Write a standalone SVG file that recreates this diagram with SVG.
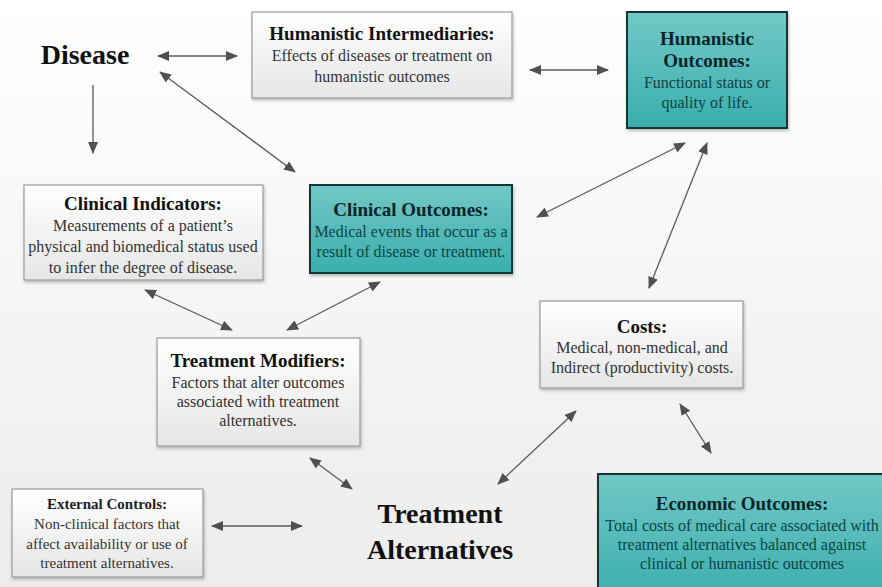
<svg xmlns="http://www.w3.org/2000/svg" width="882" height="587" viewBox="0 0 882 587">
  <defs>
    <linearGradient id="bg" x1="0" y1="0" x2="0" y2="1">
      <stop offset="0" stop-color="#ffffff"/>
      <stop offset="1" stop-color="#ececec"/>
    </linearGradient>
    <linearGradient id="plain" x1="0" y1="0" x2="0" y2="1">
      <stop offset="0" stop-color="#ffffff"/>
      <stop offset="1" stop-color="#e6e6e6"/>
    </linearGradient>
    <linearGradient id="teal" x1="0" y1="0" x2="0" y2="1">
      <stop offset="0" stop-color="#72c8c6"/>
      <stop offset="1" stop-color="#3aaeae"/>
    </linearGradient>
    <filter id="shadow" x="-10%" y="-10%" width="120%" height="130%">
      <feDropShadow dx="1" dy="2" stdDeviation="1.5" flood-color="#000" flood-opacity="0.25"/>
    </filter>
    <marker id="head" viewBox="0 0 12 10" refX="11" refY="5" markerWidth="12" markerHeight="10" markerUnits="userSpaceOnUse" orient="auto-start-reverse">
      <path d="M0,0 L12,5 L0,10 Z" fill="#505050"/>
    </marker>
  </defs>
  <style>
    .plain { fill: url(#plain); stroke: #9a9a9a; stroke-width: 1.2; filter: url(#shadow); }
    .tealbox { fill: url(#teal); stroke: #163636; stroke-width: 2; filter: url(#shadow); }
    text { font-family: "Liberation Serif", "Times New Roman", serif; text-anchor: middle; }
    .title { font-weight: bold; font-size: 19px; fill: #111; }
    .body { font-size: 16px; fill: #333; }
    .ttitle { font-weight: bold; font-size: 19px; fill: #0c2626; }
    .tbody { font-size: 16px; fill: #0b4444; }
    .big { font-weight: bold; font-size: 28px; fill: #111; }
    .small-title { font-weight: bold; font-size: 15px; fill: #222; }
    .small { font-size: 15px; fill: #333; }
    .conn line { stroke: #5a5a5a; stroke-width: 1.3; marker-end: url(#head); }
    .conn line.both { marker-start: url(#head); }
  </style>

  <rect x="0" y="0" width="882" height="587" fill="url(#bg)"/>

  <!-- connectors -->
  <g id="connectors" class="conn">
    <line class="both" x1="158" y1="56" x2="237" y2="56"/>
    <line x1="93" y1="85" x2="93" y2="153"/>
    <line class="both" x1="160" y1="72" x2="295" y2="172"/>
    <line class="both" x1="530" y1="70" x2="608" y2="70"/>
    <line class="both" x1="537" y1="217" x2="685" y2="143"/>
    <line class="both" x1="649" y1="288" x2="707" y2="143"/>
    <line class="both" x1="145" y1="290" x2="232" y2="330"/>
    <line class="both" x1="380" y1="282" x2="287" y2="330"/>
    <line class="both" x1="310" y1="458" x2="352" y2="489"/>
    <line class="both" x1="212" y1="526" x2="302" y2="526"/>
    <line class="both" x1="576" y1="411" x2="498" y2="484"/>
    <line class="both" x1="680" y1="404" x2="711" y2="453"/>
  </g>

  <g id="disease">
    <text class="big" x="85" y="64">Disease</text>
  </g>

  <g id="humanistic-intermediaries">
    <rect class="plain" x="252" y="12" width="260" height="86"/>
    <text class="title" x="382" y="40">Humanistic Intermediaries:</text>
    <text class="body" x="382" y="61">Effects of diseases or treatment on</text>
    <text class="body" x="382" y="82">humanistic outcomes</text>
  </g>

  <g id="humanistic-outcomes">
    <rect class="tealbox" x="627" y="12" width="160" height="116"/>
    <text class="ttitle" x="707" y="45">Humanistic</text>
    <text class="ttitle" x="707" y="67">Outcomes:</text>
    <text class="tbody" x="707" y="88">Functional status or</text>
    <text class="tbody" x="707" y="108">quality of life.</text>
  </g>

  <g id="clinical-indicators">
    <rect class="plain" x="24" y="185" width="239" height="95"/>
    <text class="title" x="143" y="210">Clinical Indicators:</text>
    <text class="body" x="143" y="231">Measurements of a patient’s</text>
    <text class="body" x="143" y="252">physical and biomedical status used</text>
    <text class="body" x="143" y="273">to infer the degree of disease.</text>
  </g>

  <g id="clinical-outcomes">
    <rect class="tealbox" x="310" y="185" width="202" height="88"/>
    <text class="ttitle" x="411" y="216">Clinical Outcomes:</text>
    <text class="tbody" x="411" y="237">Medical events that occur as a</text>
    <text class="tbody" x="411" y="257">result of disease or treatment.</text>
  </g>

  <g id="treatment-modifiers">
    <rect class="plain" x="157" y="338" width="203" height="108"/>
    <text class="title" x="258" y="367">Treatment Modifiers:</text>
    <text class="body" x="258" y="388">Factors that alter outcomes</text>
    <text class="body" x="258" y="407">associated with treatment</text>
    <text class="body" x="258" y="426">alternatives.</text>
  </g>

  <g id="costs">
    <rect class="plain" x="540" y="301" width="203" height="87"/>
    <text class="title" x="642" y="333">Costs:</text>
    <text class="body" x="642" y="353">Medical, non-medical, and</text>
    <text class="body" x="642" y="373">Indirect (productivity) costs.</text>
  </g>

  <g id="external-controls">
    <rect class="plain" x="12" y="489" width="191" height="88"/>
    <text class="small-title" x="107" y="509">External Controls:</text>
    <text class="small" x="107" y="529">Non-clinical factors that</text>
    <text class="small" x="107" y="549">affect availability or use of</text>
    <text class="small" x="107" y="568">treatment alternatives.</text>
  </g>

  <g id="treatment-alternatives">
    <text class="big" x="440" y="523">Treatment</text>
    <text class="big" x="440" y="559">Alternatives</text>
  </g>

  <g id="economic-outcomes">
    <rect class="tealbox" x="598" y="474" width="290" height="124"/>
    <text class="ttitle" x="742" y="510">Economic Outcomes:</text>
    <text class="tbody" x="742" y="531">Total costs of medical care associated with</text>
    <text class="tbody" x="742" y="550">treatment alternatives balanced against</text>
    <text class="tbody" x="742" y="569">clinical or humanistic outcomes</text>
  </g>
</svg>
